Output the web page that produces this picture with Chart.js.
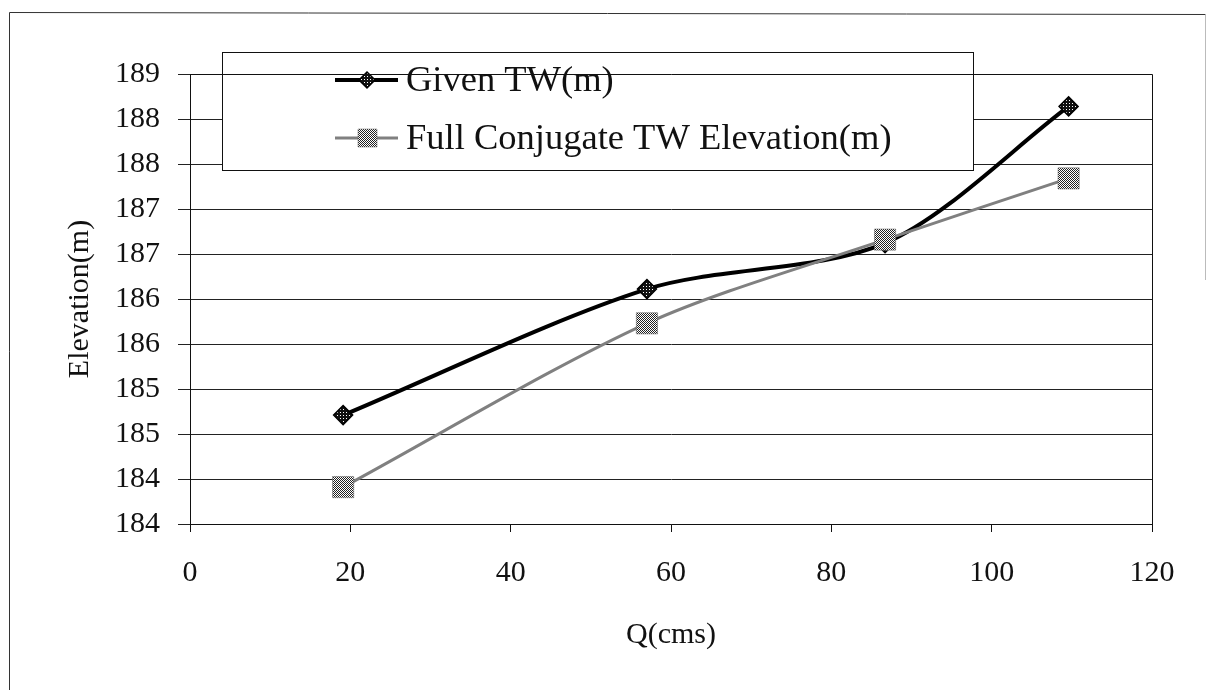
<!DOCTYPE html>
<html>
<head>
<meta charset="utf-8">
<script src="https://cdn.jsdelivr.net/npm/chart.js@4.4.1/dist/chart.umd.min.js"></script>
<style>
  html, body { margin: 0; padding: 0; background: #ffffff; }
  #wrap { position: relative; width: 1215px; height: 700px; }
  canvas { display: block; }
</style>
</head>
<body>
<div id="wrap"><canvas id="c" width="1215" height="700"></canvas></div>
<script>
// ---- data ----
const qValues = [19.1, 57.0, 86.7, 109.6];
const givenTW = [185.21, 186.61, 187.12, 188.64];
const fullConjugateTW = [184.41, 186.23, 187.16, 187.84];
const seriesNames = ['Given TW(m)', 'Full Conjugate TW Elevation(m)'];
const yTickLabels = ['184', '184', '185', '185', '186', '186', '187', '187', '188', '188', '189'];
const xTickValues = [0, 20, 40, 60, 80, 100, 120];
const xTitle = 'Q(cms)';
const yTitle = 'Elevation(m)';

const FONT = "'Liberation Serif', 'Times New Roman', serif";

function makePattern(size, darkCells, dark, light) {
  const pc = document.createElement('canvas');
  pc.width = size; pc.height = size;
  const g = pc.getContext('2d');
  g.fillStyle = light; g.fillRect(0, 0, size, size);
  g.fillStyle = dark;
  darkCells.forEach(([x, y]) => g.fillRect(x, y, 1, 1));
  return document.getElementById('c').getContext('2d').createPattern(pc, 'repeat');
}
const diamondFill = makePattern(3, [[0,0],[1,0],[2,0],[0,1],[2,1],[0,2],[1,2],[2,2]], '#111', '#ffffff');
const squareFill = makePattern(2, [[0,0],[1,1]], '#222', '#ffffff');

const toPoints = (xs, ys) => xs.map((x, i) => ({ x: x, y: ys[i] }));

const styles = [
  { color: '#000000', width: 4, pointStyle: 'rectRot', radius: 9.5, fill: diamondFill, pBorder: '#000000', pBorderW: 1.5 },
  { color: '#808080', width: 3, pointStyle: 'rect', radius: 15, fill: squareFill, pBorder: '#666666', pBorderW: 0.5 }
];

const framePlugin = {
  id: 'frame',
  beforeDraw(chart) {
    const ctx = chart.ctx;
    ctx.save();
    ctx.fillStyle = '#ffffff';
    ctx.fillRect(0, 0, chart.width, chart.height);
    ctx.strokeStyle = '#333333';
    ctx.lineWidth = 1;
    ctx.beginPath();
    ctx.moveTo(9.5, 690); ctx.lineTo(9.5, 12.5); ctx.lineTo(1205.5, 14.5);
    ctx.stroke();
    ctx.strokeStyle = '#bbbbbb';
    ctx.beginPath();
    ctx.moveTo(1205.5, 14.5); ctx.lineTo(1205.5, 280);
    ctx.stroke();
    ctx.restore();
  },
  afterDraw(chart) {
    const a = chart.chartArea, ctx = chart.ctx;
    ctx.save();
    ctx.strokeStyle = '#111111';
    ctx.lineWidth = 1;
    ctx.beginPath();
    ctx.moveTo(a.left, a.top + 0.5); ctx.lineTo(a.right + 0.5, a.top + 0.5); ctx.lineTo(a.right + 0.5, a.bottom);
    ctx.stroke();
    ctx.restore();
  }
};

const legendPlugin = {
  id: 'boxLegend',
  afterDatasetsDraw(chart) {
    const ctx = chart.ctx;
    const bx = 222, by = 52, bw = 751, bh = 118;
    ctx.save();
    ctx.fillStyle = '#ffffff';
    ctx.fillRect(bx, by, bw, bh);
    ctx.strokeStyle = '#111111';
    ctx.lineWidth = 1;
    ctx.strokeRect(bx + 0.5, by + 0.5, bw, bh);
    const rows = [80, 138];
    chart.data.datasets.forEach((ds, i) => {
      const s = styles[i];
      const y = rows[i];
      ctx.strokeStyle = s.color;
      ctx.lineWidth = s.width;
      ctx.beginPath(); ctx.moveTo(335, y); ctx.lineTo(398, y); ctx.stroke();
      ctx.fillStyle = s.fill; ctx.strokeStyle = s.pBorder; ctx.lineWidth = s.pBorderW;
      ctx.beginPath();
      if (i === 0) {
        ctx.moveTo(367, y - 8); ctx.lineTo(375, y); ctx.lineTo(367, y + 8); ctx.lineTo(359, y); ctx.closePath();
      } else {
        ctx.rect(358, y - 9, 19, 18);
      }
      ctx.fill(); ctx.stroke();
      ctx.fillStyle = '#111111';
      ctx.font = '36.5px ' + FONT;
      ctx.textBaseline = 'middle';
      ctx.textAlign = 'left';
      ctx.fillText(ds.label, 406, y + 1);
    });
    ctx.restore();
  }
};

new Chart(document.getElementById('c'), {
  type: 'line',
  data: {
    datasets: [
      {
        label: seriesNames[0],
        data: toPoints(qValues, givenTW),
        borderColor: styles[0].color, borderWidth: styles[0].width,
        pointStyle: styles[0].pointStyle, pointRadius: styles[0].radius,
        pointBackgroundColor: styles[0].fill, pointBorderColor: styles[0].pBorder,
        pointBorderWidth: styles[0].pBorderW,
        tension: 0.3, fill: false, order: 1
      },
      {
        label: seriesNames[1],
        data: toPoints(qValues, fullConjugateTW),
        borderColor: styles[1].color, borderWidth: styles[1].width,
        pointStyle: styles[1].pointStyle, pointRadius: styles[1].radius,
        pointBackgroundColor: styles[1].fill, pointBorderColor: styles[1].pBorder,
        pointBorderWidth: styles[1].pBorderW,
        tension: 0.3, fill: false, order: 0
      }
    ]
  },
  options: {
    responsive: false,
    devicePixelRatio: 1,
    animation: false,
    events: [],
    layout: { padding: { left: 62, right: 63, top: 74, bottom: 47 } },
    plugins: { legend: { display: false }, tooltip: { enabled: false }, title: { display: false } },
    scales: {
      x: {
        type: 'linear', min: 0, max: 120,
        afterBuildTicks(scale) { scale.ticks = xTickValues.map(v => ({ value: v })); },
        afterFit(scale) { scale.height = 129; },
        grid: { drawOnChartArea: false, drawTicks: true, tickLength: 8, color: '#111111', lineWidth: 1 },
        border: { display: true, color: '#111111', width: 1 },
        ticks: { color: '#111111', padding: 23, maxRotation: 0, font: { family: FONT, size: 30 } },
        title: { display: true, text: xTitle, color: '#111111', padding: 0, font: { family: FONT, size: 30 } }
      },
      y: {
        type: 'linear', min: 184, max: 189,
        ticks: {
          stepSize: 0.5, color: '#111111', padding: 18,
          font: { family: FONT, size: 30 },
          callback: (v, i) => yTickLabels[i]
        },
        afterFit(scale) { scale.width = 128; },
        grid: { drawOnChartArea: true, drawTicks: true, tickLength: 12, color: '#222222', lineWidth: 1 },
        border: { display: true, color: '#111111', width: 1 },
        title: { display: true, text: yTitle, color: '#111111', padding: 0, font: { family: FONT, size: 30 } }
      }
    }
  },
  plugins: [framePlugin, legendPlugin]
});
</script>
</body>
</html>
